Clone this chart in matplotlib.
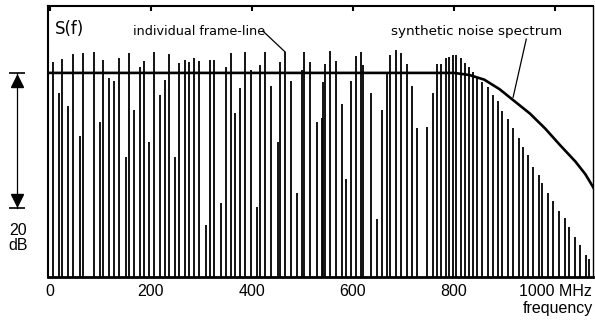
import matplotlib
matplotlib.use("Agg")
import matplotlib.pyplot as plt

# individual frame-lines: frequency (MHz) and level (dB, 0 = flat noise level)
line_freq = [6.9, 18.8, 24.7, 36.6, 46.5, 60.3, 65.3, 87.0, 99.9, 105.8,
             116.7, 127.6, 137.5, 151.3, 156.3, 167.8, 178.4, 186.9, 196.8, 206.7,
             219.2, 229.1, 235.8, 247.7, 256.8, 267.5, 276.0, 285.3, 295.2, 310.2,
             318.1, 325.4, 339.9, 349.2, 358.5, 366.4, 376.9, 386.7, 398.6, 410.5,
             415.4, 426.3, 437.2, 451.0, 456.0, 465.9, 477.7, 489.0, 498.9, 504.1,
             515.3, 528.2, 538.5, 541.0, 545.0, 554.9, 566.8, 579.2, 586.0, 595.8,
             605.7, 615.6, 620.8, 635.4, 648.5, 657.2, 667.1, 673.0, 686.1, 696.0,
             706.6, 716.1, 726.4, 746.8, 757.7, 765.6, 773.5, 783.4, 790.9, 798.2,
             804.2, 813.1, 821.4, 829.3, 837.2, 844.7, 855.6, 866.5, 877.3, 887.2,
             895.5, 906.4, 917.5, 928.2, 937.3, 946.0, 957.1, 968.4, 974.9, 985.6,
             996.6, 1007.9, 1019.8, 1027.7, 1039.6, 1049.5, 1060.7, 1067.3]
line_db = [1.6, -3.0, 2.1, -4.9, 2.8, -9.3, 3.0, 3.1, -7.3, 1.9,
           -0.7, -1.2, 2.2, -12.4, 3.0, -5.5, 0.8, 1.7, -10.2, 3.1,
           -3.2, -1.0, 2.8, -12.5, 1.4, 1.9, 1.6, 2.2, 1.7, -22.5,
           1.9, 1.9, -19.3, 0.9, 2.9, -6.0, -2.2, 3.1, 0.4, -19.8,
           1.2, 3.1, -1.9, -10.2, 1.6, 3.1, -1.2, -17.8, 0.4, 3.1,
           1.6, -7.3, -6.7, -1.3, 1.3, 3.3, 1.7, -4.6, -15.7, -1.2,
           2.5, 3.1, 1.2, -3.0, -21.6, -5.5, 0.0, 2.7, 3.4, 2.9,
           1.3, -2.0, -8.2, -8.0, -2.9, 1.3, 1.3, 2.2, 2.3, 2.6,
           2.6, 2.2, 1.5, 0.8, 0.2, -0.6, -1.4, -2.1, -3.2, -4.2,
           -5.6, -6.8, -8.2, -9.6, -10.9, -12.1, -13.9, -15.1, -16.3, -17.7,
           -19.0, -20.4, -21.5, -22.8, -24.3, -25.5, -27.0, -27.5]

# synthetic noise spectrum
spec_freq = [-5, 770, 800, 830, 860, 890, 920, 950, 980, 1010, 1040, 1060, 1076]
spec_db = [0, 0, 0, -0.3, -1.0, -2.4, -4.2, -6.0, -8.2, -10.7, -13.1, -15.0, -17.0]

tick_pos = [0, 200, 400, 600, 800, 1000]
tick_lab = ["0", "200", "400", "600", "800", "1000 MHz"]

y_bottom = -30.2
y_top = 9.9

fig = plt.figure(figsize=(5.95, 3.3), dpi=100)
ax = fig.add_axes([48 / 595, 1 - 277 / 330, 545 / 595, 271 / 330])

ax.vlines(line_freq, y_bottom, line_db, color="black", lw=1.3)
ax.plot(spec_freq, spec_db, color="black", lw=1.9)

ax.set_xlim(-3, 1075)
ax.set_ylim(y_bottom, y_top)
ax.set_yticks([])
ax.set_xticks(tick_pos)
ax.set_xticklabels(tick_lab, family="Liberation Sans", fontsize=11.5)
ax.xaxis.set_ticks_position("both")
ax.tick_params(axis="x", direction="in", length=3.5, width=1.5, pad=5)
ax.tick_params(axis="x", bottom=False)

for side in ["top", "left"]:
    ax.spines[side].set_linewidth(1.5)
ax.spines["bottom"].set_linewidth(2.0)
ax.spines["right"].set_linewidth(1.0)

ax.text(0.012, 0.915, "S(f)", transform=ax.transAxes, fontsize=12, family="DejaVu Sans",
        va="center", ha="left")
ax.text(296, 6.2, "individual frame-line", fontsize=9.2, family="DejaVu Sans",
        va="center", ha="center")
ax.plot([422, 466], [6.2, 3.1], color="black", lw=0.9)
ax.text(844, 6.2, "synthetic noise spectrum", fontsize=9.7, family="DejaVu Sans",
        va="center", ha="center")
ax.plot([943, 917], [5.0, -3.6], color="black", lw=0.9)

# 20 dB scale arrow left of the axes
tr = ax.get_yaxis_transform()
ax.plot([-0.057, -0.057], [0, -20], color="black", lw=0.9, transform=tr, clip_on=False)
ax.plot([-0.057], [-1.2], marker="^", ms=9, color="black", transform=tr, clip_on=False)
ax.plot([-0.057], [-18.8], marker="v", ms=9, color="black", transform=tr, clip_on=False)
ax.plot([-0.057, -0.057], [0, -20], marker="_", ms=11, mew=1.2, ls="none",
        color="black", transform=tr, clip_on=False)
ax.text(-0.055, -24.5, "20\ndB", transform=tr, fontsize=11.5, family="Liberation Sans",
        ha="center", va="center", linespacing=1.0)

fig.text(593 / 595, 1 - 309 / 330, "frequency", fontsize=11.5, family="Liberation Sans",
         ha="right", va="center")

fig.savefig("out.png", dpi=100)
